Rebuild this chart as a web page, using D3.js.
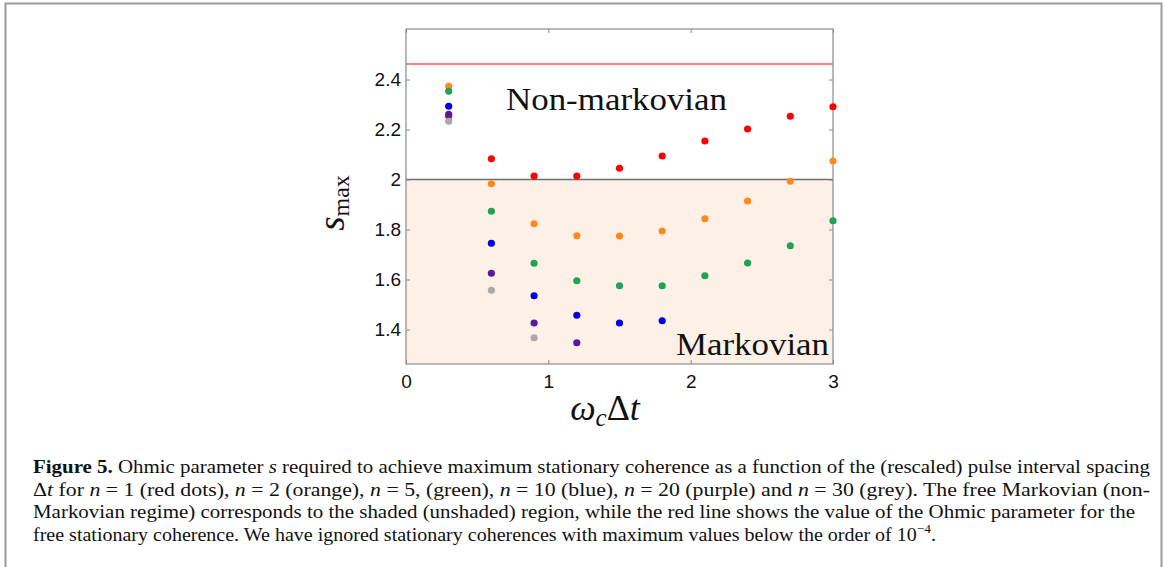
<!DOCTYPE html>
<html>
<head>
<meta charset="utf-8">
<script src="https://cdn.jsdelivr.net/npm/d3@7"></script>
<style>
  body { margin: 0; background: #fff; }
  svg { display: block; }
</style>
</head>
<body>
<svg></svg>
<script>
// pulse spacing values (omega_c * dt)
var xVals = [0.3, 0.6, 0.9, 1.2, 1.5, 1.8, 2.1, 2.4, 2.7, 3.0];

// s_max for each n, null where nothing was plotted
var sN1  = [2.254, 2.083, 2.014, 2.014, 2.045, 2.094, 2.154, 2.202, 2.253, 2.291];
var sN2  = [2.373, 1.983, 1.823, 1.775, 1.774, 1.794, 1.843, 1.914, 1.993, 2.074];
var sN5  = [2.353, 1.873, 1.665, 1.595, 1.575, 1.575, 1.615, 1.666, 1.735, 1.835];
var sN10 = [2.293, 1.745, 1.535, 1.457, 1.426, 1.435, null, null, null, null];
var sN20 = [2.261, 1.625, 1.426, 1.347, null, null, null, null, null, null];
var sN30 = [2.233, 1.557, 1.367, null, null, null, null, null, null, null];

var seriesNames = ["n=1", "n=2", "n=5", "n=10", "n=20", "n=30"];
var seriesColors = ["#ff0000", "#ff8a1c", "#22a254", "#0000e6", "#561a9c", "#a9a9a9"];

var xTicks = [0, 1, 2, 3];
var yTicks = [1.4, 1.6, 1.8, 2.0, 2.2, 2.4];
var markovLimit = 2.0;      // boundary between shaded / unshaded
var freeStationary = 2.462; // red line

var captionLines = [
  [["b", "Figure 5."], ["r", " Ohmic parameter "], ["i", "s"], ["r", " required to achieve maximum stationary coherence as a function of the (rescaled) pulse interval spacing"]],
  [["r", "\u0394"], ["i", "t"], ["r", " for "], ["i", "n"], ["r", " = 1 (red dots), "], ["i", "n"], ["r", " = 2 (orange), "], ["i", "n"], ["r", " = 5, (green), "], ["i", "n"], ["r", " = 10 (blue), "], ["i", "n"], ["r", " = 20 (purple) and "], ["i", "n"], ["r", " = 30 (grey). The free Markovian (non-"]],
  [["r", "Markovian regime) corresponds to the shaded (unshaded) region, while the red line shows the value of the Ohmic parameter for the"]],
  [["r", "free stationary coherence. We have ignored stationary coherences with maximum values below the order of 10"], ["sup", "\u22124"], ["r", "."]]
];

// define orientation
var W = 1165, H = 567;
var plot = {left: 406, right: 833, top: 29, bottom: 364};

var x = d3.scaleLinear().domain([0, 3]).range([plot.left, plot.right]);
var y = d3.scaleLinear().domain([1.262, 2.602]).range([plot.bottom, plot.top]);

var svg = d3.select("svg").attr("width", W).attr("height", H);

// outer figure border
svg.append("rect")
  .attr("x", 5.5).attr("y", 3.5)
  .attr("width", 1156).attr("height", 620)
  .attr("fill", "none")
  .attr("stroke", "#9a9a9a")
  .attr("stroke-width", 2);

// shaded markovian region
svg.append("rect")
  .attr("x", x(0)).attr("y", y(markovLimit))
  .attr("width", x(3) - x(0))
  .attr("height", y.range()[0] - y(markovLimit))
  .attr("fill", "#fdf1e7");

// boundary line at s = 2
svg.append("line")
  .attr("x1", x(0)).attr("x2", x(3))
  .attr("y1", y(markovLimit)).attr("y2", y(markovLimit))
  .attr("stroke", "#6e6e6e").attr("stroke-width", 1.3);

// red line for free stationary coherence
svg.append("line")
  .attr("x1", x(0)).attr("x2", x(3))
  .attr("y1", y(freeStationary)).attr("y2", y(freeStationary))
  .attr("stroke", "#ff5a5a").attr("stroke-width", 1.6);

// frame
svg.append("rect")
  .attr("x", plot.left).attr("y", plot.top)
  .attr("width", plot.right - plot.left)
  .attr("height", plot.bottom - plot.top)
  .attr("fill", "none")
  .attr("stroke", "#8a8a8a").attr("stroke-width", 1.2);

// axes, ticks point inward
svg.append("g")
  .attr("transform", "translate(0," + plot.bottom + ")")
  .call(d3.axisBottom(x).tickValues(xTicks).tickSizeInner(-4).tickSizeOuter(0).tickPadding(11).tickFormat(d3.format("d")));
svg.append("g")
  .attr("transform", "translate(0," + plot.top + ")")
  .call(d3.axisTop(x).tickValues(xTicks).tickSizeInner(-4).tickSizeOuter(0).tickFormat(""));
svg.append("g")
  .attr("transform", "translate(" + plot.left + ",0)")
  .call(d3.axisLeft(y).tickValues(yTicks).tickSizeInner(-4).tickSizeOuter(0).tickPadding(5).tickFormat(d3.format("~g")));
svg.append("g")
  .attr("transform", "translate(" + plot.right + ",0)")
  .call(d3.axisRight(y).tickValues(yTicks).tickSizeInner(-4).tickSizeOuter(0).tickFormat(""));

svg.selectAll(".domain").remove();
svg.selectAll(".tick line").attr("stroke", "#8a8a8a");
svg.selectAll(".tick text")
  .attr("font-family", "Liberation Sans, Arial, sans-serif")
  .attr("font-size", 19)
  .attr("fill", "#111");

// dots for every n
var allSeries = [sN1, sN2, sN5, sN10, sN20, sN30];
allSeries.forEach(function(vals, i) {
  var pts = xVals.map(function(xv, j) { return {x: xv, s: vals[j]}; })
    .filter(function(d) { return d.s != null; });
  svg.append("g")
    .attr("class", "series " + seriesNames[i])
    .selectAll("circle")
    .data(pts)
    .enter().append("circle")
    .attr("cx", function(d) { return x(d.x); })
    .attr("cy", function(d) { return y(d.s); })
    .attr("r", 3.6)
    .attr("fill", seriesColors[i]);
});

// region labels
var serif = "Liberation Serif, Times New Roman, serif";
svg.append("text")
  .attr("x", 506).attr("y", 110)
  .attr("font-family", serif).attr("font-size", 31)
  .attr("textLength", 221).attr("lengthAdjust", "spacingAndGlyphs")
  .attr("fill", "#111")
  .text("Non-markovian");
svg.append("text")
  .attr("x", 676).attr("y", 355)
  .attr("font-family", serif).attr("font-size", 31)
  .attr("textLength", 153).attr("lengthAdjust", "spacingAndGlyphs")
  .attr("fill", "#111")
  .text("Markovian");

// x axis label: omega_c Delta t
var xl = svg.append("text")
  .attr("x", 605).attr("y", 420)
  .attr("text-anchor", "middle")
  .attr("font-family", serif).attr("font-size", 36)
  .attr("fill", "#111");
xl.append("tspan").attr("font-style", "italic").text("\u03c9");
xl.append("tspan").attr("font-style", "italic").attr("font-size", 25).attr("dy", 6).text("c");
xl.append("tspan").attr("dy", -6).text("\u0394");
xl.append("tspan").attr("font-style", "italic").text("t");

// y axis label: s_max
var yl = svg.append("text")
  .attr("transform", "translate(344,203) rotate(-90)")
  .attr("text-anchor", "middle")
  .attr("font-family", serif).attr("font-size", 37)
  .attr("fill", "#111");
yl.append("tspan").attr("font-style", "italic").text("s");
yl.append("tspan").attr("font-size", 24).attr("dy", 5).text("max");

// caption
var capX = 33, capY0 = 473, capStep = 22.7;
var capWidths = [1117, 1117, 1102, 903];
captionLines.forEach(function(parts, i) {
  var t = svg.append("text")
    .attr("x", capX).attr("y", capY0 + i * capStep)
    .attr("font-family", serif).attr("font-size", 19.5)
    .attr("fill", "#111");
  if (capWidths[i]) t.attr("textLength", capWidths[i]).attr("lengthAdjust", "spacingAndGlyphs");
  parts.forEach(function(p) {
    var ts = t.append("tspan").text(p[1]);
    if (p[0] == "b") ts.attr("font-weight", "bold");
    if (p[0] == "i") ts.attr("font-style", "italic");
    if (p[0] == "sup") ts.attr("font-size", 13).attr("dy", -8);
    if (p[0] == "r" && i == 3 && p[1] == ".") ts.attr("dy", 8);
  });
});
</script>
</body>
</html>
